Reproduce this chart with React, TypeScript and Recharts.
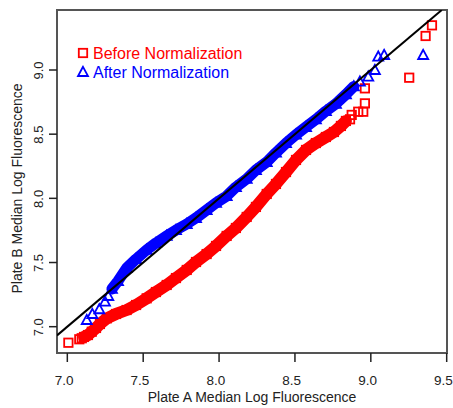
import React from 'react';
import { ScatterChart, Scatter, XAxis, YAxis, Label, ReferenceArea } from 'recharts';

// ---------- data ----------
const xTicks = [7.0, 7.5, 8.0, 8.5, 9.0, 9.5];
const yTicks = [7.0, 7.5, 8.0, 8.5, 9.0];
const xTitle = 'Plate A Median Log Fluorescence';
const yTitle = 'Plate B Median Log Fluorescence';
const seriesNames = ['Before Normalization', 'After Normalization'];

const X_MIN = 6.932;
const X_MAX = 9.502;
const Y_MIN = 6.795;
const Y_MAX = 9.4675;

// Before normalization (red squares)
const beforeLow: [number, number][] = [
  [7.007, 6.875], [7.079, 6.902], [7.095, 6.91],
];
const beforeBand: [number, number][] = [
  [7.11, 6.92], [7.136, 6.935], [7.161, 6.961], [7.189, 6.99], [7.215, 7.021],
  [7.26, 7.065], [7.321, 7.099], [7.391, 7.13], [7.453, 7.169], [7.523, 7.221],
  [7.584, 7.27], [7.655, 7.325], [7.716, 7.379], [7.787, 7.442], [7.848, 7.504],
  [7.918, 7.566], [7.98, 7.629], [8.05, 7.707], [8.111, 7.769], [8.182, 7.855],
  [8.243, 7.933], [8.314, 8.034], [8.375, 8.112], [8.441, 8.205], [8.507, 8.299],
  [8.573, 8.377], [8.638, 8.431], [8.704, 8.478], [8.757, 8.517], [8.803, 8.564],
  [8.836, 8.603],
];
const beforeHigh: [number, number][] = [
  [8.863, 8.616], [8.874, 8.65], [8.917, 8.675], [8.95, 8.675], [8.961, 8.74],
  [8.961, 8.857], [9.253, 8.94], [9.361, 9.265], [9.403, 9.348],
];

// After normalization (blue triangles)
const afterLow: [number, number][] = [
  [7.128, 7.052], [7.165, 7.099], [7.211, 7.136], [7.248, 7.195], [7.27, 7.239],
];
const afterBand: [number, number][] = [
  [7.294, 7.294], [7.334, 7.356], [7.391, 7.457], [7.453, 7.527], [7.523, 7.598],
  [7.584, 7.652], [7.655, 7.707], [7.716, 7.753], [7.787, 7.8], [7.848, 7.847],
  [7.918, 7.909], [7.98, 7.964], [8.05, 8.018], [8.111, 8.088], [8.182, 8.151],
  [8.243, 8.221], [8.314, 8.283], [8.375, 8.356], [8.441, 8.43], [8.507, 8.497],
  [8.573, 8.556], [8.638, 8.615], [8.704, 8.68], [8.77, 8.737], [8.836, 8.81],
  [8.888, 8.872],
];
const afterHigh: [number, number][] = [
  [8.928, 8.909], [8.983, 8.948], [9.027, 9.0], [9.049, 9.104], [9.088, 9.117],
  [9.345, 9.117],
];

const identityLine: [number, number][] = [
  [X_MIN, X_MIN], [Y_MAX, Y_MAX],
];

// ---------- helpers ----------
const toPts = (a: [number, number][]) => a.map(([x, y]) => ({ x, y }));

const RED = '#ff0000';
const BLUE = '#0000ff';
const FONT = '"Liberation Sans", Arial, Helvetica, sans-serif';
const BOX = '#555555';

const SquareShape = (props: any) => {
  const { cx, cy } = props;
  if (cx == null || cy == null) return null;
  return (
    <rect x={cx - 4.2} y={cy - 4.2} width={8.4} height={8.4} fill="none" stroke={RED} strokeWidth={1.8} />
  );
};

const TriangleShape = (props: any) => {
  const { cx, cy } = props;
  if (cx == null || cy == null) return null;
  return (
    <path
      d={`M${cx},${cy - 5.2} L${cx - 5},${cy + 4} L${cx + 5},${cy + 4} Z`}
      fill="none"
      stroke={BLUE}
      strokeWidth={1.8}
      strokeLinejoin="miter"
    />
  );
};

const NoShape = () => null;

const XTick = (props: any) => {
  const { x, y, payload } = props;
  return (
    <text x={x - 3.3} y={y} dy={22.5} textAnchor="middle" fontSize={13.5} fontFamily={FONT} fill="#222">
      {Number(payload.value).toFixed(1)}
    </text>
  );
};

const YTick = (props: any) => {
  const { x, y, payload } = props;
  return (
    <text
      transform={`translate(${x - 6},${y + 0.5}) rotate(-90)`}
      textAnchor="middle"
      fontSize={13}
      fontFamily={FONT}
      fill="#222"
    >
      {Number(payload.value).toFixed(1)}
    </text>
  );
};

const XTitle = (props: any) => {
  const vb = props.viewBox;
  return (
    <text x={vb.x + vb.width / 2} y={vb.y + 49} textAnchor="middle" fontSize={14} fontFamily={FONT} fill="#222">
      {xTitle}
    </text>
  );
};

const YTitle = (props: any) => {
  const vb = props.viewBox;
  const cy = vb.y + vb.height / 2 + 7;
  return (
    <text
      transform={`translate(21.5,${cy}) rotate(-90)`}
      textAnchor="middle"
      fontSize={14}
      fontFamily={FONT}
      fill="#222"
    >
      {yTitle}
    </text>
  );
};

const LegendOverlay = () => (
  <svg width={453} height={408} style={{ position: 'absolute', left: 0, top: 0, pointerEvents: 'none' }}>
    <rect x={78.8} y={48.8} width={8.4} height={8.4} fill="none" stroke={RED} strokeWidth={1.8} />
    <text x={93} y={59} fontSize={16} fontFamily={FONT} fill={RED}>{seriesNames[0]}</text>
    <path d="M83,66.8 L78,76 L88,76 Z" fill="none" stroke={BLUE} strokeWidth={1.8} />
    <text x={93} y={77.5} fontSize={16} fontFamily={FONT} fill={BLUE}>{seriesNames[1]}</text>
  </svg>
);

export default function App() {
  return (
    <div style={{ position: 'absolute', left: 0, top: 0, width: 453, height: 408, background: '#fff' }}>
      <ScatterChart width={453} height={408} margin={{ top: 10, right: 6, left: 0, bottom: 0 }}>
        <XAxis
          type="number"
          dataKey="x"
          domain={[X_MIN, X_MAX]}
          allowDataOverflow
          ticks={xTicks}
          tick={<XTick />}
          tickSize={9}
          tickMargin={0}
          height={55}
          axisLine={{ stroke: BOX, strokeWidth: 2 }}
          tickLine={{ stroke: '#222', strokeWidth: 1.5 }}
          interval={0}
        >
          <Label content={<XTitle />} />
        </XAxis>
        <YAxis
          type="number"
          dataKey="y"
          domain={[Y_MIN, Y_MAX]}
          allowDataOverflow
          ticks={yTicks}
          tick={<YTick />}
          tickSize={8}
          tickMargin={0}
          width={57}
          axisLine={{ stroke: BOX, strokeWidth: 2 }}
          tickLine={{ stroke: '#222', strokeWidth: 1.5 }}
          interval={0}
        >
          <Label content={<YTitle />} />
        </YAxis>
        <ReferenceArea
          x1={X_MIN}
          x2={X_MAX}
          y1={Y_MIN}
          y2={Y_MAX}
          fill="none"
          fillOpacity={0}
          stroke={BOX}
          strokeWidth={2}
          ifOverflow="visible"
        />
        <Scatter
          name={seriesNames[0]}
          data={toPts(beforeBand)}
          line={{ stroke: RED, strokeWidth: 12, strokeLinecap: 'round', strokeLinejoin: 'round' }}
          shape={<SquareShape />}
          isAnimationActive={false}
        />
        <Scatter name={seriesNames[0] + ' low'} data={toPts(beforeLow)} shape={<SquareShape />} isAnimationActive={false} />
        <Scatter name={seriesNames[0] + ' high'} data={toPts(beforeHigh)} shape={<SquareShape />} isAnimationActive={false} />
        <Scatter
          name={seriesNames[1]}
          data={toPts(afterBand)}
          line={{ stroke: BLUE, strokeWidth: 11, strokeLinecap: 'round', strokeLinejoin: 'round' }}
          shape={<TriangleShape />}
          isAnimationActive={false}
        />
        <Scatter name={seriesNames[1] + ' low'} data={toPts(afterLow)} shape={<TriangleShape />} isAnimationActive={false} />
        <Scatter name={seriesNames[1] + ' high'} data={toPts(afterHigh)} shape={<TriangleShape />} isAnimationActive={false} />
        <Scatter
          name="identity"
          data={toPts(identityLine)}
          line={{ stroke: '#000', strokeWidth: 2 }}
          shape={<NoShape />}
          isAnimationActive={false}
        />
      </ScatterChart>
      <LegendOverlay />
    </div>
  );
}
